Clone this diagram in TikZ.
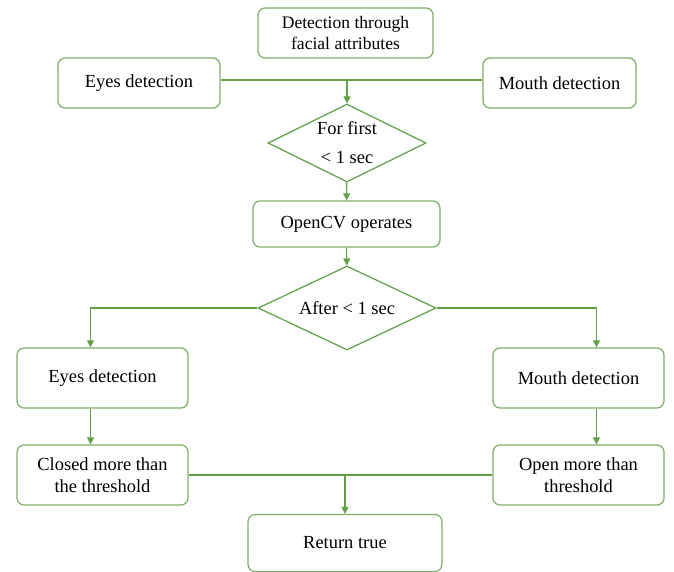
\documentclass[tikz,border=0pt]{standalone}
\usepackage{fontspec}
\setmainfont{LiberationSerif}[Extension=.ttf,UprightFont=*-Regular,BoldFont=*-Bold]
\usetikzlibrary{shapes.geometric,arrows.meta}
\definecolor{linegreen}{RGB}{98,160,72}
\definecolor{boxgreen}{RGB}{128,172,108}

\begin{document}
\begin{tikzpicture}[x=0.02cm,y=-0.02cm,
      >={Triangle[length=4pt,width=4pt]},
      font=\rmfamily\fontsize{10.5}{12.5}\selectfont,
      box/.style={draw=boxgreen,rounded corners=4pt,align=center,line width=0.7pt,inner sep=2pt},
      test/.style={diamond,draw=linegreen,align=center,aspect=2,inner sep=0pt,line width=0.7pt},
      line/.style={draw=linegreen,line width=0.6pt},
      arr/.style={line,->} ]
      \useasboundingbox (0,0) rectangle (674,572);

      % boxes
      \node[box,minimum width=3.5cm,minimum height=1cm,font=\rmfamily\fontsize{10}{12}\selectfont] (facial) at (345.5,33) {Detection through\\facial attributes};
      \node[box,minimum width=3.24cm,minimum height=1cm] (eyesA) at (139,83) {Eyes detection};
      \node[box,minimum width=3.06cm,minimum height=1cm] (mouthA) at (559.5,83) {Mouth detection};
      \node[test,minimum width=3.16cm,minimum height=1.56cm] (first) at (347,143) {For first\\[4pt]< 1 sec};
      \node[box,minimum width=3.74cm,minimum height=0.92cm] (opencv) at (346.5,224) {OpenCV operates};
      \node[test,minimum width=3.56cm,minimum height=1.68cm] (after) at (347,308) {After < 1 sec};
      \node[box,minimum width=3.42cm,minimum height=1.2cm] (eyesB) at (102.5,378) {Eyes detection};
      \node[box,minimum width=3.42cm,minimum height=1.2cm] (mouthB) at (578.5,378) {Mouth detection};
      \node[box,minimum width=3.42cm,minimum height=1.2cm] (closed) at (102.5,475) {Closed more than\\the threshold};
      \node[box,minimum width=3.42cm,minimum height=1.2cm] (open) at (578.5,475) {Open more than\\threshold};
      \node[box,minimum width=3.88cm,minimum height=1.14cm] (ret) at (345,543) {Return true};

      % joints
      \coordinate (joinA) at ([yshift=0.06cm]first.north |- eyesA.east);
      \coordinate (joinB) at (ret.north |- closed.east);

      % connectors
      \draw[line] ([yshift=0.06cm]eyesA.east) -- ([yshift=0.06cm]mouthA.west);
      \draw[arr] (joinA) -- (first);
      \draw[arr] (first) -- (opencv);
      \draw[arr] (opencv) -- (after);
      \draw[arr] (after.west) -| ([xshift=-0.24cm]eyesB.north);
      \draw[arr] (after.east) -| ([xshift=0.36cm]mouthB.north);
      \draw[arr] ([xshift=-0.24cm]eyesB.south) -- ([xshift=-0.24cm]closed.north);
      \draw[arr] ([xshift=0.36cm]mouthB.south) -- ([xshift=0.36cm]open.north);
      \draw[line] (closed) -- (open);
      \draw[arr] (joinB) -- (ret);
    \end{tikzpicture}
\end{document}
